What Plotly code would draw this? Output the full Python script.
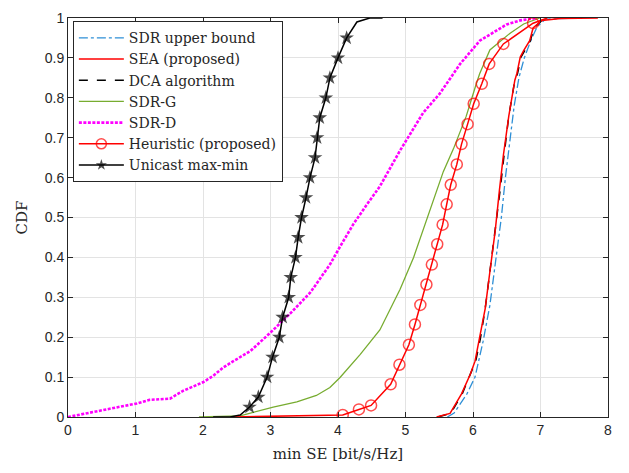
import plotly.graph_objects as go

# ---- data ----
sdr_ub_x = [5.62, 5.72, 5.91, 6.03, 6.15, 6.25, 6.35, 6.42, 6.48, 6.55, 6.61, 6.68, 6.76, 6.86, 6.95, 7.07, 7.5]
sdr_ub_y = [0.0, 0.01, 0.058, 0.1, 0.19, 0.28, 0.41, 0.5, 0.6, 0.7, 0.78, 0.85, 0.9, 0.945, 0.978, 0.997, 1.0]

sea_x = [5.46, 5.66, 5.83, 5.96, 6.03, 6.10, 6.18, 6.25, 6.33, 6.39, 6.45, 6.53, 6.62, 6.65, 6.70, 6.75, 6.84, 6.89, 7.02, 7.3, 7.85]
sea_y = [0.0, 0.009, 0.058, 0.107, 0.14, 0.197, 0.271, 0.364, 0.468, 0.566, 0.656, 0.754, 0.844, 0.861, 0.902, 0.918, 0.943, 0.975, 0.994, 0.999, 1.0]

dca_x = [5.48, 5.67, 5.84, 5.96, 6.04, 6.11, 6.18, 6.25, 6.33, 6.40, 6.46, 6.53, 6.62, 6.66, 6.71, 6.76, 6.85, 6.90, 7.03, 7.06]
dca_y = [0.0, 0.009, 0.058, 0.107, 0.14, 0.197, 0.271, 0.364, 0.468, 0.566, 0.656, 0.754, 0.844, 0.861, 0.902, 0.918, 0.943, 0.975, 0.994, 1.0]

sdrg_x = [1.94, 2.55, 3.04, 3.39, 3.68, 3.88, 4.03, 4.33, 4.62, 4.82, 4.92, 5.12, 5.36, 5.56, 5.71, 5.90, 6.05, 6.10, 6.25, 6.55, 6.75, 6.99]
sdrg_y = [0.0, 0.003, 0.025, 0.038, 0.054, 0.074, 0.099, 0.157, 0.218, 0.287, 0.32, 0.40, 0.517, 0.615, 0.672, 0.754, 0.836, 0.861, 0.92, 0.962, 0.985, 1.0]

sdrd_x = [0.0, 0.37, 1.02, 1.21, 1.51, 1.71, 2.0, 2.15, 2.30, 2.45, 2.70, 2.99, 3.14, 3.29, 3.59, 3.88, 4.03, 4.23, 4.43, 4.62, 4.92, 5.26, 5.51, 5.81, 6.10, 6.50, 6.70, 6.94]
sdrd_y = [0.0, 0.013, 0.034, 0.043, 0.046, 0.066, 0.087, 0.103, 0.124, 0.14, 0.165, 0.21, 0.234, 0.259, 0.312, 0.382, 0.427, 0.484, 0.533, 0.578, 0.668, 0.762, 0.811, 0.885, 0.943, 0.984, 0.994, 1.0]

heur_x = [2.45, 4.07, 4.31, 4.49, 4.78, 4.91, 5.05, 5.14, 5.22, 5.31, 5.39, 5.47, 5.55, 5.61, 5.67, 5.76, 5.83, 5.92, 6.01, 6.13, 6.24, 6.45, 6.89, 7.1]
heur_y = [0.0, 0.005, 0.019, 0.029, 0.082, 0.131, 0.181, 0.232, 0.281, 0.332, 0.382, 0.433, 0.482, 0.533, 0.582, 0.633, 0.684, 0.734, 0.785, 0.835, 0.885, 0.935, 0.987, 1.0]
heur_marker = [0] + [1] * 22 + [0]

uni_x = [2.15, 2.40, 2.55, 2.69, 2.82, 2.95, 3.03, 3.13, 3.18, 3.27, 3.30, 3.37, 3.41, 3.46, 3.526, 3.585, 3.66, 3.69, 3.73, 3.82, 3.88, 4.0, 4.128, 4.28, 4.47, 4.66]
uni_y = [0.0, 0.0, 0.005, 0.025, 0.05, 0.1, 0.15, 0.2, 0.25, 0.3, 0.35, 0.4, 0.45, 0.5, 0.55, 0.6, 0.65, 0.7, 0.75, 0.8, 0.85, 0.9, 0.95, 0.99, 1.0, 1.0]
uni_marker = [0, 0, 0] + [1] * 20 + [0, 0, 0]

x_ticks = [0, 1, 2, 3, 4, 5, 6, 7, 8]
y_ticks = [0, 0.1, 0.2, 0.3, 0.4, 0.5, 0.6, 0.7, 0.8, 0.9, 1]
y_ticklabels = ["0", "0.1", "0.2", "0.3", "0.4", "0.5", "0.6", "0.7", "0.8", "0.9", "1"]

SERIF = "DejaVu Serif, Liberation Serif, serif"
SANS = "Liberation Sans, Arial, sans-serif"

fig = go.Figure()
fig.add_trace(go.Scatter(x=sdr_ub_x, y=sdr_ub_y, mode="lines", name="SDR upper bound", legendrank=1,
                         line=dict(color="#2E8FD6", width=1.3, dash="dashdot")))
fig.add_trace(go.Scatter(x=dca_x, y=dca_y, mode="lines", name="DCA algorithm", legendrank=3,
                         line=dict(color="#000000", width=1.5, dash="dash")))
fig.add_trace(go.Scatter(x=sea_x, y=sea_y, mode="lines", name="SEA (proposed)", legendrank=2,
                         line=dict(color="#FF0000", width=1.5)))
fig.add_trace(go.Scatter(x=sdrg_x, y=sdrg_y, mode="lines", name="SDR-G", legendrank=4,
                         line=dict(color="#77AC30", width=1.3)))
fig.add_trace(go.Scatter(x=sdrd_x, y=sdrd_y, mode="lines", name="SDR-D", legendrank=5,
                         line=dict(color="#FF00FF", width=2.6, dash="3px,1.5px")))
fig.add_trace(go.Scatter(x=heur_x, y=heur_y, mode="lines+markers", name="Heuristic (proposed)", legendrank=6,
                         line=dict(color="#FF0000", width=1.5),
                         marker=dict(symbol="circle-open", color="#FF0000",
                                     size=[11 * m for m in heur_marker], line=dict(width=1.5, color="#FF0000"))))
fig.add_trace(go.Scatter(x=uni_x, y=uni_y, mode="lines+markers", name="Unicast max-min", legendrank=7,
                         line=dict(color="#000000", width=1.5),
                         marker=dict(symbol="star", color="#000000",
                                     size=[11 * m for m in uni_marker], line=dict(width=0))))

axis_common = dict(showline=True, linecolor="#262626", linewidth=1, mirror="allticks",
                   ticks="inside", ticklen=5, tickcolor="#262626",
                   showgrid=True, gridcolor="#E3E3E3", gridwidth=1, zeroline=False,
                   tickfont=dict(family=SANS, size=14, color="#262626"))

fig.update_layout(
    width=629, height=473,
    margin=dict(l=68, r=21, t=10, b=56),
    paper_bgcolor="white", plot_bgcolor="white",
    showlegend=True,
    legend=dict(x=0.009, y=0.992, xanchor="left", yanchor="top",
                bgcolor="white", bordercolor="#262626", borderwidth=1,
                font=dict(family=SERIF, size=14, color="#262626"),
                itemwidth=45, tracegroupgap=0),
    xaxis=dict(range=[0, 8], tickvals=x_ticks,
               title=dict(text="min SE [bit/s/Hz]", font=dict(family=SERIF, size=15, color="#262626"), standoff=11),
               **axis_common),
    yaxis=dict(range=[0, 1], tickvals=y_ticks, ticktext=y_ticklabels,
               title=dict(text="CDF", font=dict(family=SERIF, size=15, color="#262626"), standoff=13),
               **axis_common),
)

fig.write_html("out.html")
